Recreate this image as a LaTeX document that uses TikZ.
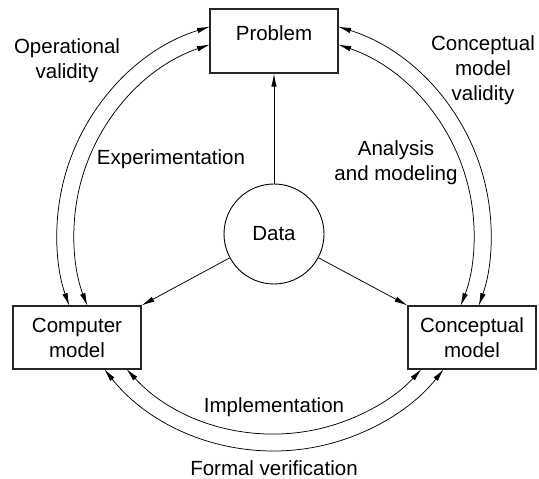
\documentclass[tikz,border=0pt]{standalone}
\usepackage{fontspec}
\setmainfont{Liberation Sans}
\usetikzlibrary{arrows.meta}
\begin{document}
\begin{tikzpicture}[x=1pt,y=1pt,
  lbl/.style={font=\fontsize{20.5}{25}\selectfont, align=center, inner sep=0pt},
  box/.style={lbl, draw=black!85, line width=1.2pt, minimum width=128pt, minimum height=63pt},
  tipped/.style={line width=0.75pt, -{Latex[length=13pt,width=5.5pt]}},
  dbl/.style={line width=0.75pt, {Latex[length=13pt,width=5.5pt]}-{Latex[length=13pt,width=5.5pt]}}
]
\useasboundingbox (0,0) rectangle (539,479);
\coordinate (C) at (274,245);
% nodes
\node[box, minimum height=64pt, text height=15pt, text depth=16pt] (prob) at (274,438) {Problem};
\node[box] (comp) at (77,141.5) {Computer\\model};
\node[box] (conc) at (472,141.5) {Conceptual\\model};
\node[lbl, draw, circle, line width=0.9pt, minimum size=100pt] (data) at (274,245) {Data};
% data arrows
\draw[tipped] (data) -- (prob);
\draw[tipped] (data) -- (comp.north east);
\draw[tipped] (data) -- (conc.north west);
% arcs
\draw[dbl] ([shift={(107.16:217)}]C) arc[start angle=107.16, end angle=199.38, radius=217];
\draw[dbl] ([shift={(108.69:200)}]C) arc[start angle=108.69, end angle=201.10, radius=200];
\draw[dbl] ([shift={(218.47:217)}]C) arc[start angle=218.47, end angle=321.53, radius=217];
\draw[dbl] ([shift={(222.45:200)}]C) arc[start angle=222.45, end angle=317.55, radius=200];
\draw[dbl] ([shift={(72.84:217)}]C) arc[start angle=72.84, end angle=-19.38, radius=217];
\draw[dbl] ([shift={(71.31:200)}]C) arc[start angle=71.31, end angle=-21.10, radius=200];
% labels
\node[lbl] (opv) at (67,418) {Operational\\validity};
\node[lbl] (cmv) at (483,409) {Conceptual\\model\\validity};
\node[lbl] (exp) at (171,320) {Experimentation};
\node[lbl] (anm) at (396,316) {Analysis\\and modeling};
\node[lbl] (imp) at (274,72) {Implementation};
\node[lbl] (fov) at (274,11) {Formal verification};
\end{tikzpicture}
\end{document}
